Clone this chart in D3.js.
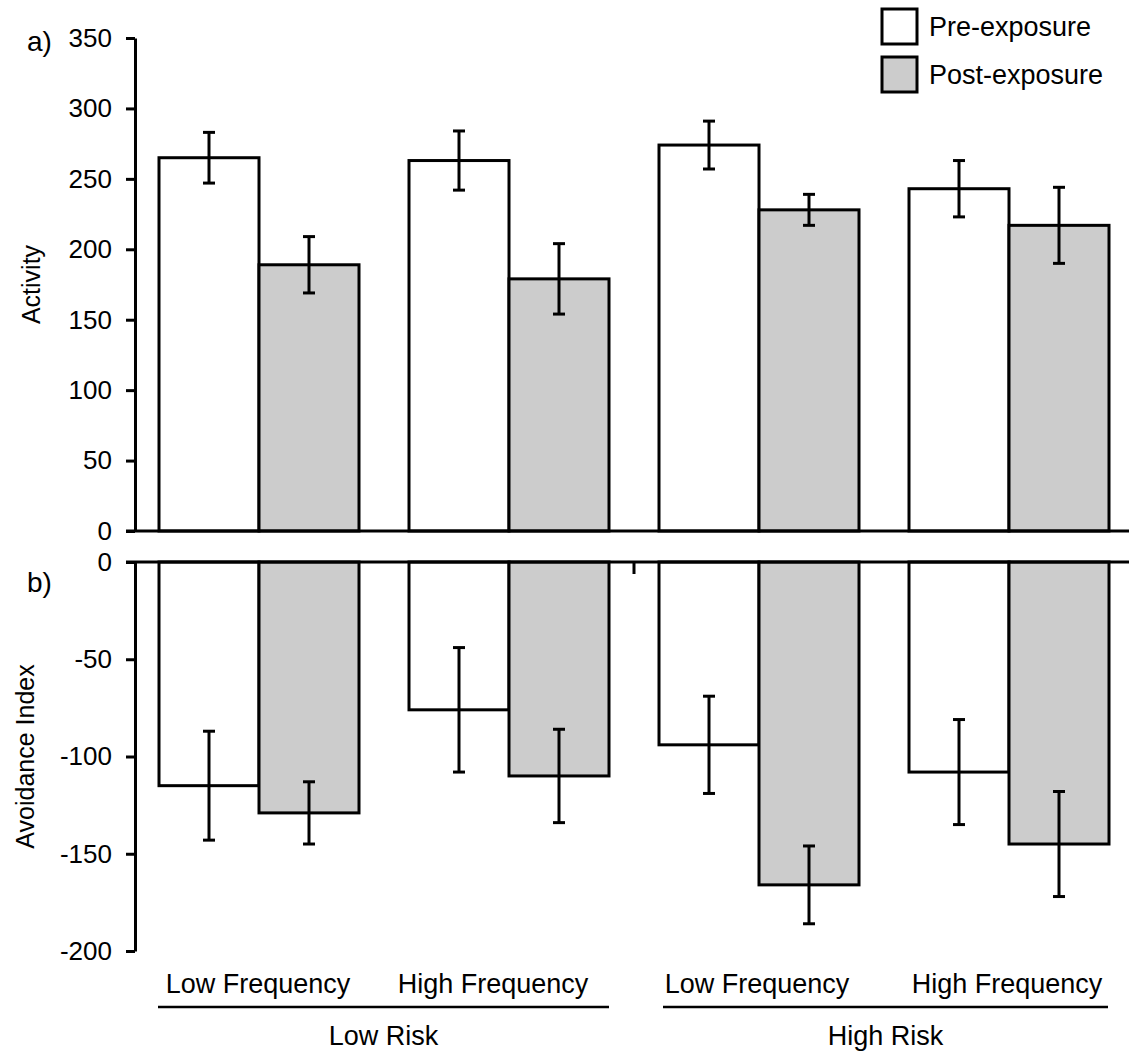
<!DOCTYPE html>
<html>
<head>
  <meta charset="utf-8">
  <title>Activity and Avoidance Index</title>
  <script src="https://cdn.jsdelivr.net/npm/d3@7"></script>
  <style>
    body { margin: 0; background: #fff; }
    text { font-family: "Liberation Sans", Arial, sans-serif; fill: #000; }
  </style>
</head>
<body>
  <script>
    // data
    const conditions = ["LR-LF", "LR-HF", "HR-LF", "HR-HF"];
    const freqLabels = ["Low Frequency", "High Frequency", "Low Frequency", "High Frequency"];
    const riskLabels = ["Low Risk", "High Risk"];
    const series = ["Pre-exposure", "Post-exposure"];

    const activityPre = [265, 263, 274, 243];
    const activityPreErr = [18, 21, 17, 20];
    const activityPost = [189, 179, 228, 217];
    const activityPostErr = [20, 25, 11, 27];

    const avoidPre = [-115, -76, -94, -108];
    const avoidPreErr = [28, 32, 25, 27];
    const avoidPost = [-129, -110, -166, -145];
    const avoidPostErr = [16, 24, 20, 27];

    const activityTicks = [0, 50, 100, 150, 200, 250, 300, 350];
    const avoidTicks = [0, -50, -100, -150, -200];

    // layout
    const W = 1129, H = 1055;
    const axisX = 135;
    const fills = ["#ffffff", "#cccccc"];

    const svg = d3.select("body").append("svg")
      .attr("width", W).attr("height", H);

    // category scale: 4 slots of 250px starting at the y axis
    const x = d3.scaleBand().domain(conditions)
      .range([134, 1134]).paddingInner(0.2).paddingOuter(0.1);
    const xs = d3.scaleBand().domain(series).range([0, x.bandwidth()]);

    const yTop = d3.scaleLinear().domain([0, 350]).range([531, 38]);
    const yBot = d3.scaleLinear().domain([0, -200]).range([562, 951]);

    function panel(y, pre, preErr, post, postErr, ticks) {
      const g = svg.append("g");
      const rows = conditions.map((c, i) => [
        {c: c, s: series[0], v: pre[i], e: preErr[i]},
        {c: c, s: series[1], v: post[i], e: postErr[i]}
      ]).flat();

      g.selectAll("rect.bar").data(rows).enter().append("rect")
        .attr("class", "bar")
        .attr("x", d => x(d.c) + xs(d.s))
        .attr("y", d => Math.min(y(d.v), y(0)))
        .attr("width", xs.bandwidth())
        .attr("height", d => Math.abs(y(d.v) - y(0)))
        .attr("fill", (d, i) => fills[i % 2])
        .attr("stroke", "#000")
        .attr("stroke-width", 3);

      // error bars
      const eb = g.selectAll("g.err").data(rows).enter().append("g")
        .attr("class", "err")
        .attr("transform", d => "translate(" + (x(d.c) + xs(d.s) + xs.bandwidth() / 2) + ",0)")
        .attr("stroke", "#000").attr("stroke-width", 3);
      eb.append("line")
        .attr("y1", d => y(d.v - d.e)).attr("y2", d => y(d.v + d.e));
      eb.append("line").attr("x1", -6).attr("x2", 6)
        .attr("y1", d => y(d.v + d.e)).attr("y2", d => y(d.v + d.e));
      eb.append("line").attr("x1", -6).attr("x2", 6)
        .attr("y1", d => y(d.v - d.e)).attr("y2", d => y(d.v - d.e));

      // y axis
      const axis = d3.axisLeft(y).tickValues(ticks).tickSize(9).tickPadding(14)
        .tickSizeOuter(0).tickFormat(d => String(d));
      const ag = g.append("g")
        .attr("transform", "translate(" + axisX + ",0)")
        .call(axis);
      ag.select(".domain").attr("stroke-width", 3);
      ag.selectAll(".tick line").attr("stroke-width", 3);
      ag.selectAll(".tick text")
        .attr("font-size", 26)
        .attr("font-family", "Liberation Sans, Arial, sans-serif");

      // zero line across the panel
      g.append("line")
        .attr("x1", axisX - 9).attr("x2", W)
        .attr("y1", y(0)).attr("y2", y(0))
        .attr("stroke", "#000").attr("stroke-width", 3);
      return g;
    }

    panel(yTop, activityPre, activityPreErr, activityPost, activityPostErr, activityTicks);
    const gb = panel(yBot, avoidPre, avoidPreErr, avoidPost, avoidPostErr, avoidTicks);

    // small category tick between the risk groups
    gb.append("line")
      .attr("x1", x(conditions[2]) - x.step() * 0.1).attr("x2", x(conditions[2]) - x.step() * 0.1)
      .attr("y1", yBot(0)).attr("y2", yBot(0) + 12)
      .attr("stroke", "#000").attr("stroke-width", 3);

    // panel letters and axis titles
    svg.append("text").attr("x", 27).attr("y", 51).attr("font-size", 28).text("a)");
    svg.append("text").attr("x", 27).attr("y", 592).attr("font-size", 28).text("b)");

    svg.append("text")
      .attr("transform", "translate(40," + yTop(175) + ") rotate(-90)")
      .attr("text-anchor", "middle").attr("font-size", 25).text("Activity");
    svg.append("text")
      .attr("transform", "translate(34," + yBot(-100) + ") rotate(-90)")
      .attr("text-anchor", "middle").attr("font-size", 25).text("Avoidance Index");

    // frequency labels under each condition
    const labelShift = [-1, -16, -2, -2];
    svg.selectAll("text.freq").data(conditions).enter().append("text")
      .attr("class", "freq")
      .attr("x", (d, i) => x(d) + x.bandwidth() / 2 + labelShift[i])
      .attr("y", 993)
      .attr("text-anchor", "middle")
      .attr("font-size", 27)
      .text((d, i) => freqLabels[i]);

    // risk group underlines and labels
    const groups = [
      {name: riskLabels[0], x1: x(conditions[0]) - 1, x2: x(conditions[1]) + x.bandwidth()},
      {name: riskLabels[1], x1: x(conditions[2]) + 4, x2: x(conditions[3]) + x.bandwidth() - 1}
    ];
    svg.selectAll("line.grp").data(groups).enter().append("line")
      .attr("class", "grp")
      .attr("x1", d => d.x1).attr("x2", d => d.x2)
      .attr("y1", 1007).attr("y2", 1007)
      .attr("stroke", "#000").attr("stroke-width", 2.5);
    svg.selectAll("text.grp").data(groups).enter().append("text")
      .attr("class", "grp")
      .attr("x", d => (d.x1 + d.x2) / 2)
      .attr("y", 1045)
      .attr("text-anchor", "middle")
      .attr("font-size", 27)
      .text(d => d.name);

    // legend
    const lg = svg.append("g").attr("transform", "translate(882,9)");
    const li = lg.selectAll("g").data(series).enter().append("g")
      .attr("transform", (d, i) => "translate(0," + (i * 48) + ")");
    li.append("rect")
      .attr("width", 35).attr("height", 35)
      .attr("fill", (d, i) => fills[i])
      .attr("stroke", "#000").attr("stroke-width", 3);
    li.append("text")
      .attr("x", 47).attr("y", 27)
      .attr("font-size", 27)
      .text(d => d);
  </script>
</body>
</html>
